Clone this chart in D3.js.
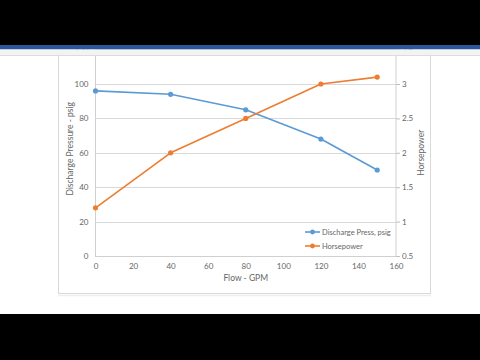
<!DOCTYPE html>
<html>
<head>
<meta charset="utf-8">
<script src="https://cdn.jsdelivr.net/npm/d3@7"></script>
<style>
html,body{margin:0;padding:0;background:#fff;}
svg{display:block;}
text{font-family:Lato,"Open Sans",sans-serif;fill:#666;}
</style>
</head>
<body>
<svg id="chart" width="480" height="360"></svg>
<script>
const flow = [0, 40, 80, 120, 150];
const pressure = [96, 94, 85, 68, 50];
const horsepower = [1.2, 2.0, 2.5, 3.0, 3.1];
const xTicks = [0, 20, 40, 60, 80, 100, 120, 140, 160];
const leftTicks = [0, 20, 40, 60, 80, 100, 120];
const rightTicks = [0.5, 1, 1.5, 2, 2.5, 3, 3.5];
const seriesNames = ["Discharge Press, psig", "Horsepower"];
const colors = ["#5B9BD5", "#ED7D31"];
const xTitle = "Flow - GPM";
const leftTitle = "Discharge Pressure - psig";
const rightTitle = "Horsepower";

const svg = d3.select("#chart");
const L = 95.5, R = 396, B = 256, T = 49.6;

const x = d3.scaleLinear().domain([0, 160]).range([L, R]);
const yL = d3.scaleLinear().domain([0, 120]).range([B, T]);
const yR = d3.scaleLinear().domain([0.5, 3.5]).range([B, T]);

// chart area border
svg.append("rect").attr("x", 58.5).attr("y", 20).attr("width", 372).attr("height", 273.5)
  .attr("fill", "#fff").attr("stroke", "#d9d9d9").attr("stroke-width", 1);
svg.append("line").attr("x1", 58).attr("x2", 431).attr("y1", 295.5).attr("y2", 295.5)
  .attr("stroke", "#eeeeee").attr("stroke-width", 1.5);

// gridlines
svg.append("g").selectAll("line").data(leftTicks).join("line")
  .attr("x1", L).attr("x2", R)
  .attr("y1", d => Math.round(yL(d)) + 0.5).attr("y2", d => Math.round(yL(d)) + 0.5)
  .attr("stroke", "#d9d9d9").attr("stroke-width", 1);

// plot border
svg.append("rect").attr("x", L).attr("y", T).attr("width", R - L).attr("height", B - T + 0.5)
  .attr("fill", "none").attr("stroke", "#d0d0d0").attr("stroke-width", 1);

const fmt = d => String(d);

// x axis
const xAxis = d3.axisBottom(x).tickValues(xTicks).tickFormat(fmt).tickSize(0).tickPadding(7);
const gx = svg.append("g").attr("transform", `translate(0,${B})`).call(xAxis);
gx.select(".domain").remove();
gx.selectAll("text").style("font-size", "8px").attr("fill", "#666").attr("font-family", "Lato, sans-serif");

// left axis
const lAxis = d3.axisLeft(yL).tickValues(leftTicks).tickFormat(fmt).tickSize(0).tickPadding(7);
const gl = svg.append("g").attr("transform", `translate(${L},0)`).call(lAxis);
gl.select(".domain").remove();
gl.selectAll("text").style("font-size", "8px").attr("fill", "#666").attr("font-family", "Lato, sans-serif");

// right axis
const rAxis = d3.axisRight(yR).tickValues(rightTicks).tickFormat(fmt).tickSize(4).tickPadding(2);
const gr = svg.append("g").attr("transform", `translate(${R},0)`).call(rAxis);
gr.select(".domain").remove();
gr.selectAll("line").attr("stroke", "#bfbfbf");
gr.selectAll("text").style("font-size", "8px").attr("fill", "#666").attr("font-family", "Lato, sans-serif");

// axis titles
svg.append("text").attr("x", (L + R) / 2).attr("y", 281).attr("text-anchor", "middle")
  .style("font-size", "8.5px").text(xTitle);
svg.append("text").attr("transform", `translate(73,${(T + B) / 2 - 4}) rotate(-90)`)
  .attr("text-anchor", "middle").style("font-size", "8.5px").text(leftTitle);
svg.append("text").attr("transform", `translate(424,${(T + B) / 2}) rotate(-90)`)
  .attr("text-anchor", "middle").style("font-size", "8.5px").text(rightTitle);

// series
const s1 = flow.map((f, i) => [x(f), yL(pressure[i])]);
const s2 = flow.map((f, i) => [x(f), yR(horsepower[i])]);
const line = d3.line();
[s1, s2].forEach((pts, k) => {
  svg.append("path").attr("d", line(pts)).attr("fill", "none")
    .attr("stroke", colors[k]).attr("stroke-width", 1.6).attr("stroke-linejoin", "round");
  svg.append("g").selectAll("circle").data(pts).join("circle")
    .attr("cx", d => d[0]).attr("cy", d => d[1]).attr("r", 2.6).attr("fill", colors[k]);
});

// legend
const lg = svg.append("g");
seriesNames.forEach((n, i) => {
  const yy = 232 + i * 14;
  lg.append("line").attr("x1", 305).attr("x2", 320).attr("y1", yy).attr("y2", yy)
    .attr("stroke", colors[i]).attr("stroke-width", 1.6);
  lg.append("circle").attr("cx", 312.5).attr("cy", yy).attr("r", 2.4).attr("fill", colors[i]);
  lg.append("text").attr("x", 322).attr("y", yy + 2.8).style("font-size", "7.5px").text(n);
});

// window chrome overlays
svg.append("rect").attr("x", 0).attr("y", 0).attr("width", 480).attr("height", 45).attr("fill", "#000");
svg.append("rect").attr("x", 0).attr("y", 45).attr("width", 480).attr("height", 4.5).attr("fill", "#2b579a");
svg.append("rect").attr("x", 0).attr("y", 49.5).attr("width", 480).attr("height", 6).attr("fill", "#f3f3f3");
svg.append("line").attr("x1", 0).attr("x2", 480).attr("y1", 55.5).attr("y2", 55.5).attr("stroke", "#dcdcdc");
svg.append("rect").attr("x", 0).attr("y", 314).attr("width", 480).attr("height", 46).attr("fill", "#000");
</script>
</body>
</html>
